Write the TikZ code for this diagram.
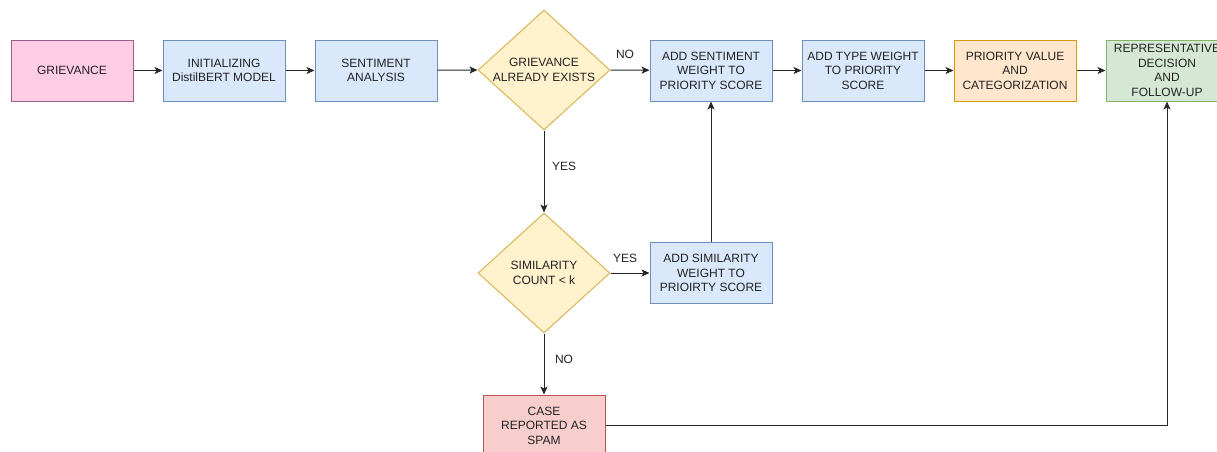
\documentclass[tikz,border=0pt]{standalone}
\usepackage{fontspec}
\setmainfont{Liberation Sans}
\usetikzlibrary{shapes.geometric,arrows.meta}
\definecolor{pinkF}{HTML}{FFCCE6}\definecolor{pinkD}{HTML}{996185}
\definecolor{blueF}{HTML}{DAE8FC}\definecolor{blueD}{HTML}{6C8EBF}
\definecolor{yelF}{HTML}{FFF2CC}\definecolor{yelD}{HTML}{D6B656}
\definecolor{oraF}{HTML}{FFE6CC}\definecolor{oraD}{HTML}{D79B00}
\definecolor{greF}{HTML}{D5E8D4}\definecolor{greD}{HTML}{82B366}
\definecolor{redF}{HTML}{F8CECC}\definecolor{redD}{HTML}{B85450}
\definecolor{txt}{HTML}{222222}
\tikzset{
  box/.style={rectangle, draw, line width=1pt, minimum width=122pt, minimum height=61pt,
    inner sep=0pt, align=center, font=\fontsize{12}{14.5}\selectfont, text=txt},
  dia/.style={diamond, draw=yelD, fill=yelF, line width=1pt, minimum width=132pt,
    minimum height=120pt, inner sep=0pt},
  dtext/.style={align=center, font=\fontsize{12}{14.5}\selectfont, text=txt, inner sep=0pt},
  lab/.style={font=\fontsize{12}{14}\selectfont, text=txt, inner sep=0pt},
  arr/.style={draw=black!85, line width=1pt, -{Stealth[length=8pt,width=7pt,inset=2pt]}},
}
\begin{document}
\begin{tikzpicture}[x=1pt,y=-1pt]
\useasboundingbox (0,0) rectangle (1217,451);
\clip (0,0) rectangle (1217,451);
\node[box, draw=pinkD, fill=pinkF] (g) at (72,70.5) {GRIEVANCE};
\node[box, draw=blueD, fill=blueF] (init) at (224,70.5) {INITIALIZING\\DistilBERT MODEL};
\node[box, draw=blueD, fill=blueF] (sa) at (376,70.5) {SENTIMENT\\ANALYSIS};
\node[dia] (d1) at (544,70) {};
\node[dtext] (d1t) at (544,70) {GRIEVANCE\\ALREADY EXISTS};
\node[box, draw=blueD, fill=blueF] (ase) at (711,70.5) {ADD SENTIMENT\\WEIGHT TO\\PRIORITY SCORE};
\node[box, draw=blueD, fill=blueF] (atw) at (863,70.5) {ADD TYPE WEIGHT\\TO PRIORITY\\SCORE};
\node[box, draw=oraD, fill=oraF] (pv) at (1015,70.5) {PRIORITY VALUE\\AND\\CATEGORIZATION};
\node[box, draw=greD, fill=greF] (rep) at (1167,70.5) {REPRESENTATIVE\\DECISION\\AND\\FOLLOW-UP};
\node[dia] (d2) at (544,273) {};
\node[dtext] (d2t) at (544,273) {SIMILARITY\\COUNT < k};
\node[box, draw=blueD, fill=blueF] (asim) at (711,273) {ADD SIMILARITY\\WEIGHT TO\\PRIOIRTY SCORE};
\node[box, draw=redD, fill=redF] (case) at (544,425.5) {CASE\\REPORTED AS\\SPAM};
\draw[arr] (g) -- (init);
\draw[arr] (init) -- (sa);
\draw[arr] (sa) -- (d1.west);
\draw[arr] (d1.east) -- (ase);
\draw[arr] (ase) -- (atw);
\draw[arr] (atw) -- (pv);
\draw[arr] (pv) -- (rep);
\draw[arr] (d1.south) -- (d2.north);
\draw[arr] (d2.east) -- (asim);
\draw[arr] (asim.north) -- (ase.south);
\draw[arr] (d2.south) -- (case.north);
\draw[arr] (case.east) -- (rep.south |- case.east) -- (rep.south);
\node[lab] (l1) at (625,54) {NO};
\node[lab] (l2) at (564,166) {YES};
\node[lab] (l3) at (625,258) {YES};
\node[lab] (l4) at (564,359) {NO};
\end{tikzpicture}
\end{document}
